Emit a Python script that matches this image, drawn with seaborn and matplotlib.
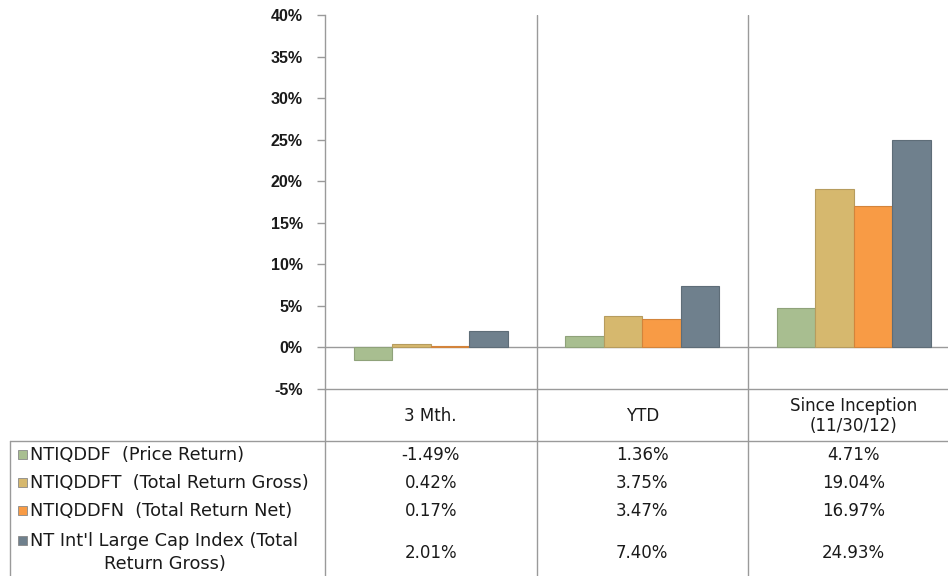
import pandas as pd
import seaborn as sns
import matplotlib.pyplot as plt
from matplotlib.patches import Rectangle

# chart data
periods = ["3 Mth.", "YTD", "Since Inception\n(11/30/12)"]
series = ["NTIQDDF  (Price Return)", "NTIQDDFT  (Total Return Gross)",
          "NTIQDDFN  (Total Return Net)", "NT Int'l Large Cap Index (Total\nReturn Gross)"]
price_return = [-1.49, 1.36, 4.71]
total_gross = [0.42, 3.75, 19.04]
total_net = [0.17, 3.47, 16.97]
index_gross = [2.01, 7.40, 24.93]
colors = ["#A8BE90", "#D6B86E", "#F89B45", "#6F808D"]
yticks = [-5, 0, 5, 10, 15, 20, 25, 30, 35, 40]

values = [price_return, total_gross, total_net, index_gross]
rows = []
for s, vals in zip(series, values):
    for p, v in zip(periods, vals):
        rows.append({"period": p, "series": s, "value": v})
df = pd.DataFrame(rows)

sns.set_style("white")
plt.rcParams['font.family'] = ['DejaVu Sans']

W, H = 948, 576
fig = plt.figure(figsize=(W / 100, H / 100), dpi=100)
unit = 211.5  # px per category
ax = fig.add_axes([325 / W, 1 - 389 / H, 3 * unit / W, 374 / H])

sns.barplot(data=df, x="period", y="value", hue="series", order=periods,
            hue_order=series, palette=colors, width=0.73, legend=False,
            ax=ax, saturation=1)
for bar in ax.patches:
    fc = bar.get_facecolor()
    bar.set_edgecolor(tuple(c * 0.85 for c in fc[:3]))
    bar.set_linewidth(0.8)

grey = "#9A9A9A"
ax.set_xlim(-0.5, 2.5)
ax.set_ylim(-5, 40)
ax.set_yticks(yticks)
ax.set_yticklabels([f"{t}%" for t in yticks], fontfamily="Liberation Sans",
                   fontweight="bold", fontsize=11.5, color="#1a1a1a")
ax.tick_params(axis="y", length=6, color=grey, width=1, pad=10, left=True)
ax.set_xticks([])
ax.set_xlabel("")
ax.set_ylabel("")
for side in ["top", "right"]:
    ax.spines[side].set_visible(False)
for side in ["left", "bottom"]:
    ax.spines[side].set_color(grey)
    ax.spines[side].set_linewidth(1)
ax.axhline(0, color=grey, lw=1, zorder=0.5)
for xb in [0.5, 1.5]:
    ax.axvline(xb, color=grey, lw=1, zorder=0.5)

# data table underneath
tab = fig.add_axes([325 / W, 0, 3 * unit / W, (H - 389) / H])
tab.set_xlim(-0.5, 2.5)
tab.set_ylim(576, 389)
tab.axis("off")


def px2x(px):
    return -0.5 + (px - 325) / unit


txt = dict(fontsize=12, color="#1a1a1a")
lab = dict(fontsize=12.8, color="#1a1a1a")
tab.plot([px2x(10), 2.5], [441, 441], color=grey, lw=1, clip_on=False)
tab.plot([px2x(10), px2x(10)], [441, 576], color=grey, lw=1, clip_on=False)
for xb in [-0.5, 0.5, 1.5]:
    tab.plot([xb, xb], [389, 576], color=grey, lw=1, clip_on=False)

for i, p in enumerate(periods):
    tab.text(i, 416, p, ha="center", va="center", linespacing=1.1, **txt)

row_y = [455, 483, 511, 553]
for r, (s, vals, c) in enumerate(zip(series, values, colors)):
    y = row_y[r]
    if "\n" in s:
        first, second = s.split("\n")
        tab.text(px2x(30), 541, first, ha="left", va="center", clip_on=False, **lab)
        tab.text(px2x(165), 564, second, ha="center", va="center", clip_on=False, **lab)
        ky = 541
    else:
        tab.text(px2x(30), y, s, ha="left", va="center", clip_on=False, **lab)
        ky = y
    tab.add_patch(Rectangle((px2x(18), ky - 4.5), 9 / unit, 9, facecolor=c,
                            edgecolor="#888888", lw=0.6, clip_on=False))
    for i, v in enumerate(vals):
        tab.text(i, y, f"{v:.2f}%", ha="center", va="center", **txt)

fig.savefig("out.png", dpi=100)
